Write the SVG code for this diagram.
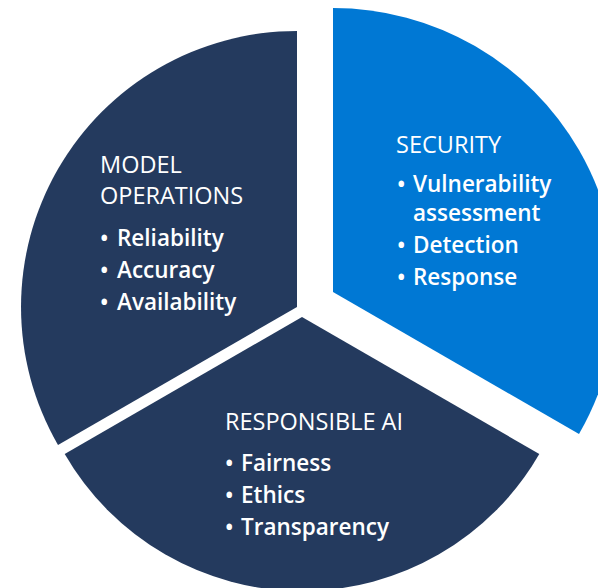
<svg xmlns="http://www.w3.org/2000/svg" width="598" height="588" viewBox="0 0 598 588">
  <style>
    .dark { fill: #243a5e; }
    .blue { fill: #0078d4; }
    .h { fill: #ffffff; font-family: "Open Sans", "Noto Sans", "Liberation Sans", sans-serif; font-size: 23.5px; font-weight: 500; }
    .t { fill: #ffffff; font-family: "Open Sans", "Noto Sans", "Liberation Sans", sans-serif; font-size: 22.5px; font-weight: 600; }
  </style>
  <rect x="0" y="0" width="598" height="588" fill="#ffffff"/>
  <g id="node-model-operations">
    <path class="dark" d="M297,307 L297,31 A276,276 0 0 0 58,445 Z"/>
    <text class="h" x="100" y="173">MODEL<tspan x="100" y="204">OPERATIONS</tspan></text>
    <text class="t" x="100" y="246">•<tspan x="117">Reliability</tspan></text>
    <text class="t" x="100" y="278">•<tspan x="117">Accuracy</tspan></text>
    <text class="t" x="100" y="310">•<tspan x="117">Availability</tspan></text>
  </g>
  <g id="node-security">
    <path class="blue" d="M333,292 L333,8 A284,284 0 0 1 579,434 Z"/>
    <text class="h" x="396" y="153">SECURITY</text>
    <text class="t" x="397" y="192">•<tspan x="413">Vulnerability</tspan><tspan x="413" y="221">assessment</tspan></text>
    <text class="t" x="397" y="253">•<tspan x="413">Detection</tspan></text>
    <text class="t" x="397" y="285">•<tspan x="413">Response</tspan></text>
  </g>
  <g id="node-responsible-ai">
    <path class="dark" d="M302,317 L539.3,454 A274,274 0 0 1 64.7,454 Z"/>
    <text class="h" x="225" y="430">RESPONSIBLE AI</text>
    <text class="t" x="225" y="471">•<tspan x="241">Fairness</tspan></text>
    <text class="t" x="225" y="503">•<tspan x="241">Ethics</tspan></text>
    <text class="t" x="225" y="535">•<tspan x="241">Transparency</tspan></text>
  </g>
  <g id="connectors"/>
</svg>
